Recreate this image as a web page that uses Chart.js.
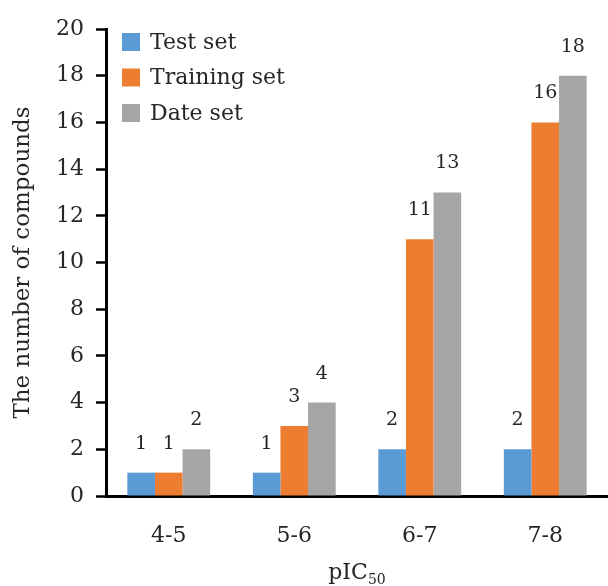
<!DOCTYPE html>
<html>
<head>
<meta charset="utf-8">
<script src="https://cdn.jsdelivr.net/npm/chart.js@4"></script>
<style>
html,body{margin:0;padding:0;background:#fff;}
#wrap{width:608px;height:586px;position:relative;}
</style>
</head>
<body>
<div id="wrap"><canvas id="c" width="608" height="586"></canvas></div>
<script>
const categories = ['4-5', '5-6', '6-7', '7-8'];
const testSet = [1, 1, 2, 2];
const trainingSet = [1, 3, 11, 16];
const dateSet = [2, 4, 13, 18];
const seriesNames = ['Test set', 'Training set', 'Date set'];
const yTicks = [0, 2, 4, 6, 8, 10, 12, 14, 16, 18, 20];

const colors = ['#5B9BD5', '#ED7D31', '#A5A5A5'];
const SERIF = '"DejaVu Serif", "Liberation Serif", serif';
const TEXT = '#262626';

const dataLabels = {
  id: 'dataLabels',
  afterDatasetsDraw(chart) {
    const ctx = chart.ctx;
    ctx.save();
    ctx.font = '19px ' + SERIF;
    ctx.fillStyle = TEXT;
    ctx.textAlign = 'center';
    ctx.textBaseline = 'middle';
    chart.data.datasets.forEach((ds, i) => {
      const meta = chart.getDatasetMeta(i);
      meta.data.forEach((bar, j) => {
        ctx.fillText(String(ds.data[j]), bar.x, bar.y - 29);
      });
    });
    ctx.restore();
  }
};

const customLegend = {
  id: 'customLegend',
  afterDraw(chart) {
    const ctx = chart.ctx;
    const a = chart.chartArea;
    ctx.save();
    ctx.font = '22px ' + SERIF;
    ctx.textBaseline = 'middle';
    ctx.textAlign = 'left';
    chart.data.datasets.forEach((ds, i) => {
      const cy = a.top + 13 + i * 35.5;
      ctx.fillStyle = ds.backgroundColor;
      ctx.fillRect(a.left + 16, cy - 9, 18, 18);
      ctx.fillStyle = TEXT;
      ctx.fillText(ds.label, a.left + 44, cy + 1);
    });
    ctx.restore();
  }
};

const xTitle = {
  id: 'xTitle',
  afterDraw(chart) {
    const ctx = chart.ctx;
    const a = chart.chartArea;
    ctx.save();
    ctx.fillStyle = TEXT;
    ctx.textBaseline = 'alphabetic';
    const main = 'pIC', sub = '50';
    ctx.font = '22px ' + SERIF;
    const w1 = ctx.measureText(main).width;
    ctx.font = '14px ' + SERIF;
    const w2 = ctx.measureText(sub).width;
    const x0 = (a.left + a.right) / 2 - (w1 + w2) / 2;
    const y = 579;
    ctx.font = '22px ' + SERIF;
    ctx.fillText(main, x0, y);
    ctx.font = '14px ' + SERIF;
    ctx.fillText(sub, x0 + w1, y + 5);
    ctx.restore();
  }
};

new Chart(document.getElementById('c'), {
  type: 'bar',
  data: {
    labels: categories,
    datasets: [
      { label: seriesNames[0], data: testSet, backgroundColor: colors[0] },
      { label: seriesNames[1], data: trainingSet, backgroundColor: colors[1] },
      { label: seriesNames[2], data: dateSet, backgroundColor: colors[2] }
    ]
  },
  options: {
    responsive: false,
    animation: false,
    devicePixelRatio: 1,
    layout: { padding: { top: 29, right: 0, bottom: 0, left: 0 } },
    datasets: { bar: { categoryPercentage: 0.66, barPercentage: 1.0, borderWidth: 0 } },
    plugins: { legend: { display: false }, tooltip: { enabled: false } },
    scales: {
      x: {
        grid: { display: false, drawTicks: false },
        border: { display: true, color: '#000', width: 3 },
        ticks: { font: { family: SERIF, size: 22 }, color: TEXT, padding: 27 },
        afterFit(s) { s.height = 90; }
      },
      y: {
        min: 0, max: 20,
        afterBuildTicks(s) { s.ticks = yTicks.map(v => ({ value: v })); },
        grid: { display: true, drawOnChartArea: false, drawTicks: true, tickLength: 10, tickWidth: 2.5, tickColor: '#000', color: '#000' },
        border: { display: true, color: '#000', width: 3 },
        ticks: { font: { family: SERIF, size: 22 }, color: TEXT, padding: 12 },
        title: { display: true, text: 'The number of compounds', font: { family: SERIF, size: 23 }, color: TEXT, padding: { top: 9, bottom: 0 } },
        afterFit(s) { s.width = 106; }
      }
    }
  },
  plugins: [dataLabels, customLegend, xTitle]
});
</script>
</body>
</html>
